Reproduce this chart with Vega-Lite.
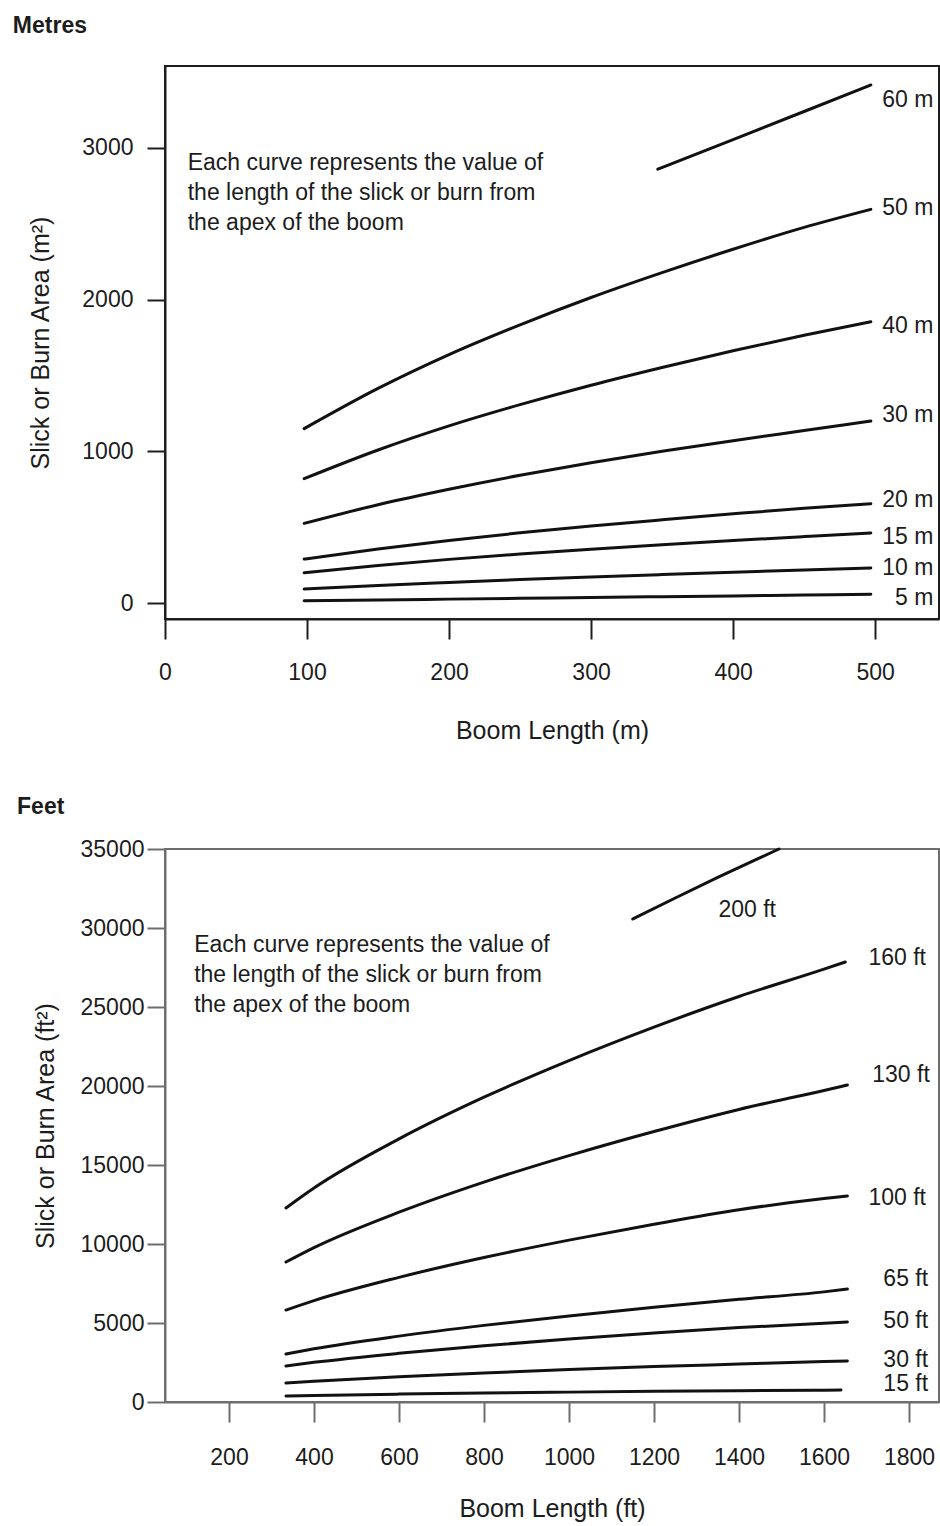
{
  "$schema": "https://vega.github.io/schema/vega-lite/v6.json",
  "background": "white",
  "padding": {"left": 11, "top": 14, "right": 1, "bottom": 4},
  "config": {
    "font": "Liberation Sans",
    "axis": {"grid": false, "labelFont": "Liberation Sans", "labelFontSize": 23, "labelColor": "#1c1c1c", "titleFont": "Liberation Sans", "titleFontSize": 25, "titleFontWeight": "normal", "titleColor": "#1c1c1c", "labelFlush": false, "labelOverlap": false},
    "text": {"font": "Liberation Sans", "fontSize": 23, "color": "#1c1c1c"}
  },
  "datasets": {
    "metric": [
      {"curve": "5 m", "boom": 98, "area": 15}, {"curve": "5 m", "boom": 150, "area": 20}, {"curve": "5 m", "boom": 200, "area": 26}, {"curve": "5 m", "boom": 250, "area": 31}, {"curve": "5 m", "boom": 300, "area": 36}, {"curve": "5 m", "boom": 350, "area": 42}, {"curve": "5 m", "boom": 400, "area": 47}, {"curve": "5 m", "boom": 450, "area": 53}, {"curve": "5 m", "boom": 497, "area": 58},
      {"curve": "10 m", "boom": 98, "area": 92}, {"curve": "10 m", "boom": 150, "area": 116}, {"curve": "10 m", "boom": 200, "area": 136}, {"curve": "10 m", "boom": 250, "area": 155}, {"curve": "10 m", "boom": 300, "area": 172}, {"curve": "10 m", "boom": 350, "area": 188}, {"curve": "10 m", "boom": 400, "area": 203}, {"curve": "10 m", "boom": 450, "area": 218}, {"curve": "10 m", "boom": 497, "area": 231},
      {"curve": "15 m", "boom": 98, "area": 200}, {"curve": "15 m", "boom": 150, "area": 248}, {"curve": "15 m", "boom": 200, "area": 288}, {"curve": "15 m", "boom": 250, "area": 323}, {"curve": "15 m", "boom": 300, "area": 355}, {"curve": "15 m", "boom": 350, "area": 385}, {"curve": "15 m", "boom": 400, "area": 412}, {"curve": "15 m", "boom": 450, "area": 438}, {"curve": "15 m", "boom": 497, "area": 462},
      {"curve": "20 m", "boom": 98, "area": 290}, {"curve": "20 m", "boom": 150, "area": 357}, {"curve": "20 m", "boom": 200, "area": 413}, {"curve": "20 m", "boom": 250, "area": 463}, {"curve": "20 m", "boom": 300, "area": 508}, {"curve": "20 m", "boom": 350, "area": 549}, {"curve": "20 m", "boom": 400, "area": 588}, {"curve": "20 m", "boom": 450, "area": 625}, {"curve": "20 m", "boom": 497, "area": 655},
      {"curve": "30 m", "boom": 98, "area": 525}, {"curve": "30 m", "boom": 150, "area": 648}, {"curve": "30 m", "boom": 200, "area": 750}, {"curve": "30 m", "boom": 250, "area": 842}, {"curve": "30 m", "boom": 300, "area": 925}, {"curve": "30 m", "boom": 350, "area": 1000}, {"curve": "30 m", "boom": 400, "area": 1070}, {"curve": "30 m", "boom": 450, "area": 1137}, {"curve": "30 m", "boom": 497, "area": 1200},
      {"curve": "40 m", "boom": 98, "area": 820}, {"curve": "40 m", "boom": 150, "area": 1009}, {"curve": "40 m", "boom": 200, "area": 1168}, {"curve": "40 m", "boom": 250, "area": 1308}, {"curve": "40 m", "boom": 300, "area": 1436}, {"curve": "40 m", "boom": 350, "area": 1553}, {"curve": "40 m", "boom": 400, "area": 1663}, {"curve": "40 m", "boom": 450, "area": 1765}, {"curve": "40 m", "boom": 497, "area": 1854},
      {"curve": "50 m", "boom": 98, "area": 1150}, {"curve": "50 m", "boom": 150, "area": 1415}, {"curve": "50 m", "boom": 200, "area": 1638}, {"curve": "50 m", "boom": 250, "area": 1834}, {"curve": "50 m", "boom": 300, "area": 2014}, {"curve": "50 m", "boom": 350, "area": 2178}, {"curve": "50 m", "boom": 400, "area": 2332}, {"curve": "50 m", "boom": 450, "area": 2476}, {"curve": "50 m", "boom": 497, "area": 2595},
      {"curve": "60 m", "boom": 347, "area": 2860}, {"curve": "60 m", "boom": 400, "area": 3055}, {"curve": "60 m", "boom": 450, "area": 3240}, {"curve": "60 m", "boom": 497, "area": 3415}
    ],
    "metricLabels": [
      {"label": "60 m", "boom": 541, "area": 3316}, {"label": "50 m", "boom": 541, "area": 2604}, {"label": "40 m", "boom": 541, "area": 1826}, {"label": "30 m", "boom": 541, "area": 1239},
      {"label": "20 m", "boom": 541, "area": 679}, {"label": "15 m", "boom": 541, "area": 435}, {"label": "10 m", "boom": 541, "area": 231}, {"label": "5 m", "boom": 541, "area": 33}
    ],
    "imperial": [
      {"curve": "15 ft", "boom": 334, "area": 380}, {"curve": "15 ft", "boom": 400, "area": 415}, {"curve": "15 ft", "boom": 600, "area": 500}, {"curve": "15 ft", "boom": 800, "area": 570}, {"curve": "15 ft", "boom": 1000, "area": 625}, {"curve": "15 ft", "boom": 1200, "area": 675}, {"curve": "15 ft", "boom": 1400, "area": 715}, {"curve": "15 ft", "boom": 1600, "area": 750}, {"curve": "15 ft", "boom": 1640, "area": 760},
      {"curve": "30 ft", "boom": 334, "area": 1200}, {"curve": "30 ft", "boom": 400, "area": 1310}, {"curve": "30 ft", "boom": 600, "area": 1600}, {"curve": "30 ft", "boom": 800, "area": 1840}, {"curve": "30 ft", "boom": 1000, "area": 2050}, {"curve": "30 ft", "boom": 1200, "area": 2240}, {"curve": "30 ft", "boom": 1400, "area": 2400}, {"curve": "30 ft", "boom": 1600, "area": 2560}, {"curve": "30 ft", "boom": 1655, "area": 2595},
      {"curve": "50 ft", "boom": 334, "area": 2280}, {"curve": "50 ft", "boom": 400, "area": 2510}, {"curve": "50 ft", "boom": 600, "area": 3080}, {"curve": "50 ft", "boom": 800, "area": 3560}, {"curve": "50 ft", "boom": 1000, "area": 3980}, {"curve": "50 ft", "boom": 1200, "area": 4360}, {"curve": "50 ft", "boom": 1400, "area": 4710}, {"curve": "50 ft", "boom": 1600, "area": 4990}, {"curve": "50 ft", "boom": 1655, "area": 5060},
      {"curve": "65 ft", "boom": 334, "area": 3040}, {"curve": "65 ft", "boom": 400, "area": 3370}, {"curve": "65 ft", "boom": 600, "area": 4170}, {"curve": "65 ft", "boom": 800, "area": 4850}, {"curve": "65 ft", "boom": 1000, "area": 5450}, {"curve": "65 ft", "boom": 1200, "area": 6000}, {"curve": "65 ft", "boom": 1400, "area": 6500}, {"curve": "65 ft", "boom": 1600, "area": 6970}, {"curve": "65 ft", "boom": 1655, "area": 7150},
      {"curve": "100 ft", "boom": 334, "area": 5820}, {"curve": "100 ft", "boom": 400, "area": 6420}, {"curve": "100 ft", "boom": 600, "area": 7890}, {"curve": "100 ft", "boom": 800, "area": 9145}, {"curve": "100 ft", "boom": 1000, "area": 10245}, {"curve": "100 ft", "boom": 1200, "area": 11245}, {"curve": "100 ft", "boom": 1400, "area": 12165}, {"curve": "100 ft", "boom": 1600, "area": 12880}, {"curve": "100 ft", "boom": 1655, "area": 13040},
      {"curve": "130 ft", "boom": 334, "area": 8860}, {"curve": "130 ft", "boom": 400, "area": 9773}, {"curve": "130 ft", "boom": 600, "area": 12014}, {"curve": "130 ft", "boom": 800, "area": 13919}, {"curve": "130 ft", "boom": 1000, "area": 15594}, {"curve": "130 ft", "boom": 1200, "area": 17118}, {"curve": "130 ft", "boom": 1400, "area": 18517}, {"curve": "130 ft", "boom": 1600, "area": 19720}, {"curve": "130 ft", "boom": 1655, "area": 20060},
      {"curve": "160 ft", "boom": 334, "area": 12280}, {"curve": "160 ft", "boom": 400, "area": 13545}, {"curve": "160 ft", "boom": 600, "area": 16650}, {"curve": "160 ft", "boom": 800, "area": 19290}, {"curve": "160 ft", "boom": 1000, "area": 21610}, {"curve": "160 ft", "boom": 1200, "area": 23725}, {"curve": "160 ft", "boom": 1400, "area": 25665}, {"curve": "160 ft", "boom": 1600, "area": 27400}, {"curve": "160 ft", "boom": 1650, "area": 27850},
      {"curve": "200 ft", "boom": 1150, "area": 30570}, {"curve": "200 ft", "boom": 1250, "area": 31900}, {"curve": "200 ft", "boom": 1350, "area": 33200}, {"curve": "200 ft", "boom": 1450, "area": 34450}, {"curve": "200 ft", "boom": 1494, "area": 35000}
    ],
    "imperialLabels": [
      {"label": "200 ft", "boom": 1487, "area": 31139}, {"label": "160 ft", "boom": 1840, "area": 28101}, {"label": "130 ft", "boom": 1849, "area": 20696}, {"label": "100 ft", "boom": 1840, "area": 12911},
      {"label": "65 ft", "boom": 1845, "area": 7785}, {"label": "50 ft", "boom": 1845, "area": 5127}, {"label": "30 ft", "boom": 1845, "area": 2658}, {"label": "15 ft", "boom": 1845, "area": 1139}
    ],
    "notes": [
      {"panel": "m", "boom": 16, "area": 2975, "note": "Each curve represents the value of\nthe length of the slick or burn from\nthe apex of the boom"},
      {"panel": "ft", "boom": 118, "area": 29600, "note": "Each curve represents the value of\nthe length of the slick or burn from\nthe apex of the boom"}
    ]
  },
  "columns": 1,
  "spacing": 51,
  "concat": [
    {
      "width": 774,
      "height": 553,
      "title": {"text": "Metres", "anchor": "start", "frame": "bounds", "dx": -16, "fontSize": 23, "fontWeight": "bold", "color": "#1c1c1c", "font": "Liberation Sans", "baseline": "bottom", "offset": 5},
      "view": {"stroke": "#1e1e1e", "strokeWidth": 2},
      "layer": [
        {
          "data": {"name": "metric"},
          "mark": {"type": "line", "interpolate": "monotone", "strokeWidth": 3, "color": "#111111", "strokeCap": "round"},
          "encoding": {
            "x": {"field": "boom", "type": "quantitative", "scale": {"domain": [0, 545], "nice": false, "zero": false},
              "axis": {"values": [0, 100, 200, 300, 400, 500], "format": "d", "title": "Boom Length (m)", "domainColor": "#1e1e1e", "domainWidth": 2, "tickColor": "#1e1e1e", "tickWidth": 2, "tickSize": 20, "labelPadding": 22, "titlePadding": 34}},
            "y": {"field": "area", "type": "quantitative", "scale": {"domain": [-105, 3540], "nice": false, "zero": false},
              "axis": {"values": [0, 1000, 2000, 3000], "format": "d", "title": "Slick or Burn Area (m²)", "domainColor": "#1e1e1e", "domainWidth": 2, "tickColor": "#1e1e1e", "tickWidth": 2, "tickSize": 18, "labelPadding": 14, "titlePadding": 28}},
            "detail": {"field": "curve", "type": "nominal"}
          }
        },
        {
          "data": {"name": "metricLabels"},
          "mark": {"type": "text", "align": "right", "baseline": "middle", "fontSize": 23},
          "encoding": {
            "x": {"field": "boom", "type": "quantitative"},
            "y": {"field": "area", "type": "quantitative"},
            "text": {"field": "label", "type": "nominal"}
          }
        },
        {
          "data": {"name": "notes"},
          "transform": [{"filter": "datum.panel == 'm'"}],
          "mark": {"type": "text", "align": "left", "baseline": "top", "fontSize": 23, "lineBreak": "\n", "lineHeight": 30},
          "encoding": {
            "x": {"field": "boom", "type": "quantitative"},
            "y": {"field": "area", "type": "quantitative"},
            "text": {"field": "note", "type": "nominal"}
          }
        }
      ]
    },
    {
      "width": 774,
      "height": 553,
      "title": {"text": "Feet", "anchor": "start", "frame": "bounds", "dx": -16, "fontSize": 23, "fontWeight": "bold", "color": "#1c1c1c", "font": "Liberation Sans", "baseline": "bottom", "offset": -4},
      "view": {"stroke": "#6e6e6e", "strokeWidth": 2},
      "layer": [
        {
          "data": {"name": "imperial"},
          "mark": {"type": "line", "interpolate": "monotone", "strokeWidth": 3, "color": "#111111", "strokeCap": "round"},
          "encoding": {
            "x": {"field": "boom", "type": "quantitative", "scale": {"domain": [49.4, 1870.6], "nice": false, "zero": false},
              "axis": {"values": [200, 400, 600, 800, 1000, 1200, 1400, 1600, 1800], "format": "d", "title": "Boom Length (ft)", "domainColor": "#6e6e6e", "domainWidth": 2, "tickColor": "#6e6e6e", "tickWidth": 2, "tickSize": 20, "labelPadding": 24, "titlePadding": 27}},
            "y": {"field": "area", "type": "quantitative", "scale": {"domain": [0, 35000], "nice": false, "zero": false},
              "axis": {"values": [0, 5000, 10000, 15000, 20000, 25000, 30000, 35000], "format": "d", "title": "Slick or Burn Area (ft²)", "domainColor": "#6e6e6e", "domainWidth": 2, "tickColor": "#6e6e6e", "tickWidth": 2, "tickSize": 18, "labelPadding": 3, "titlePadding": 22}},
            "detail": {"field": "curve", "type": "nominal"}
          }
        },
        {
          "data": {"name": "imperialLabels"},
          "mark": {"type": "text", "align": "right", "baseline": "middle", "fontSize": 23},
          "encoding": {
            "x": {"field": "boom", "type": "quantitative"},
            "y": {"field": "area", "type": "quantitative"},
            "text": {"field": "label", "type": "nominal"}
          }
        },
        {
          "data": {"name": "notes"},
          "transform": [{"filter": "datum.panel == 'ft'"}],
          "mark": {"type": "text", "align": "left", "baseline": "top", "fontSize": 23, "lineBreak": "\n", "lineHeight": 30},
          "encoding": {
            "x": {"field": "boom", "type": "quantitative"},
            "y": {"field": "area", "type": "quantitative"},
            "text": {"field": "note", "type": "nominal"}
          }
        }
      ]
    }
  ]
}
